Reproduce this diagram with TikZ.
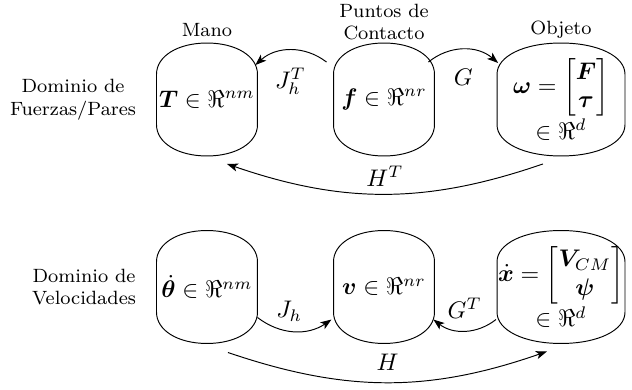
\documentclass[tikz,border=0pt]{standalone}
\usepackage{amsmath,amssymb,bm}
\usetikzlibrary{arrows.meta, calc}

\tikzset{
  caja/.style={inner sep=0pt, minimum width=0.5765in, minimum height=0.6457in},
  cajaobj/.style={caja, minimum width=0.7322in, align=center},
  rotulo/.style={font=\footnotesize, align=center},
  flecha/.style={-{Stealth[length=4.6pt,width=3.4pt,inset=1.2pt]}},
  etiq/.style={inner sep=0pt},
}

% contorno de una caja con esquinas elipticas
\newcommand{\caja}[1]{%
  \draw ([yshift=-0.18in]#1.north west)
    .. controls ([yshift=-0.076in]#1.north west) and ($(#1.north west)!0.42!(#1.north)$) .. (#1.north)
    .. controls ($(#1.north east)!0.42!(#1.north)$) and ([yshift=-0.076in]#1.north east) .. ([yshift=-0.18in]#1.north east)
    -- ([yshift=0.18in]#1.south east)
    .. controls ([yshift=0.076in]#1.south east) and ($(#1.south east)!0.42!(#1.south)$) .. (#1.south)
    .. controls ($(#1.south west)!0.42!(#1.south)$) and ([yshift=0.076in]#1.south west) .. ([yshift=0.18in]#1.south west)
    -- cycle;}

\begin{document}
\begin{tikzpicture}[x=1in,y=1in]
\useasboundingbox (0,0) rectangle (3.6437,2.2485);
% dominio de fuerzas
\node[rotulo] (domF) at (0.4209,1.6748) {Dominio de\\Fuerzas/Pares};
\node[caja] (mano) at (1.1934,1.6748) {$\bm{T}\in\Re^{nm}$};
\node[caja] (contacto) at (2.2139,1.6748) {$\bm{f}\in\Re^{nr}$};
\node[cajaobj] (objeto) at (3.2344,1.6748) {$\bm{\omega}=\begin{bmatrix}\bm{F}\\ \bm{\tau}\end{bmatrix}$\\$\in\Re^{d}$};
\node[rotulo] (lMano) at (1.1934,2.0755) {Mano};
\node[rotulo] (lContacto) at (2.2139,2.1216) {Puntos de\\Contacto};
\node[rotulo] (lObjeto) at (3.2344,2.0755) {Objeto};
% dominio de velocidades
\node[rotulo] (domV) at (0.4843,0.5938) {Dominio de\\Velocidades};
\node[caja] (theta) at (1.1934,0.5938) {$\dot{\bm{\theta}}\in\Re^{nm}$};
\node[caja] (vel) at (2.2139,0.5938) {$\bm{v}\in\Re^{nr}$};
\node[cajaobj] (xdot) at (3.2344,0.5938) {$\dot{\bm{x}}=\begin{bmatrix}\bm{V}_{CM}\\ \bm{\psi}\end{bmatrix}$\\$\in\Re^{d}$};
\caja{mano}
\caja{contacto}
\caja{objeto}
\caja{theta}
\caja{vel}
\caja{xdot}
% flechas
\draw[flecha] ([shift={(-0.040,-0.110)}]contacto.north west) to[bend right=40]
  node[etiq, midway, yshift=-13pt] (lJhT) {$J_h^T$} ([shift={(-0.012,-0.127)}]mano.north east);
\draw[flecha] ([shift={(-0.035,-0.110)}]contacto.north east) to[bend left=40]
  node[etiq, midway, yshift=-11.5pt] (lG) {$G$} ([shift={(0.006,-0.115)}]objeto.north west);
\draw[flecha] ([shift={(-0.104,-0.046)}]objeto.south) to[bend left=19]
  node[etiq, midway, yshift=7.5pt] (lHT) {$H^T$} ([shift={(0.115,-0.046)}]mano.south);
\draw[flecha] ([shift={(0,0.150)}]theta.south east) to[bend right=36]
  node[etiq, midway, yshift=8.3pt, xshift=-2pt] (lJh) {$J_h$} ([shift={(-0.012,0.138)}]vel.south west);
\draw[flecha] ([shift={(-0.006,0.138)}]xdot.south west) to[bend left=38]
  node[etiq, midway, yshift=9.5pt] (lGT) {$G^T$} ([shift={(-0.006,0.138)}]vel.south east);
\draw[flecha] ([shift={(0.121,-0.052)}]theta.south) to[bend right=19]
  node[etiq, midway, yshift=8.3pt] (lH) {$H$} ([shift={(-0.081,-0.046)}]xdot.south);
\end{tikzpicture}
\end{document}
